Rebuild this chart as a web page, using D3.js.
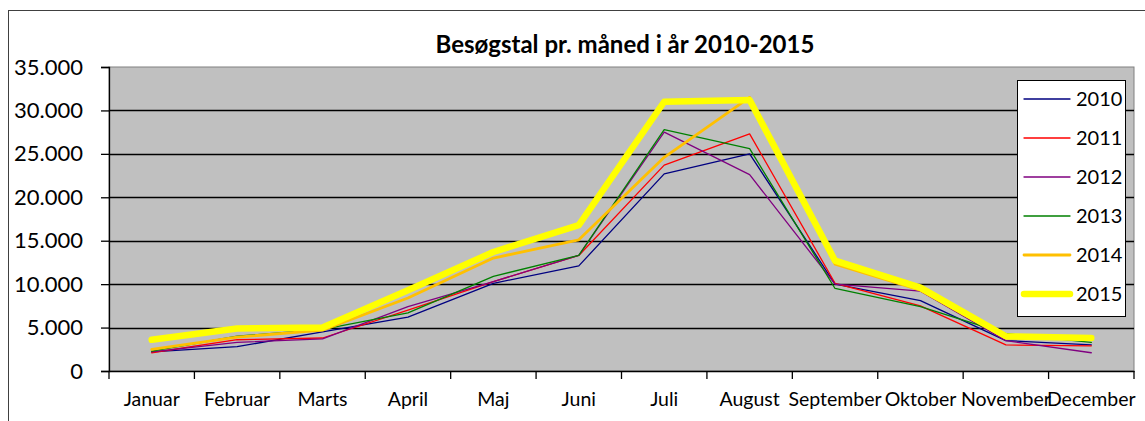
<!DOCTYPE html>
<html>
<head>
<meta charset="utf-8">
<script src="https://cdn.jsdelivr.net/npm/d3@7"></script>
<style>
  body { margin: 0; background: #fff; }
  svg text { font-family: Lato, "Noto Sans", sans-serif; fill: #000; }
</style>
</head>
<body>
<svg id="chart" width="1145" height="421"></svg>
<script>
"use strict";

// data
const months = ["Januar", "Februar", "Marts", "April", "Maj", "Juni",
    "Juli", "August", "September", "Oktober", "November", "December"];
const years = ["2010", "2011", "2012", "2013", "2014", "2015"];
const v2010 = [2200, 2800, 4500, 6200, 10100, 12100, 22700, 25000, 10000, 8100, 3500, 3000];
const v2011 = [2100, 3600, 3800, 7000, 10300, 13300, 23700, 27300, 10100, 7500, 3000, 2900];
const v2012 = [2200, 3300, 3700, 7400, 10300, 13300, 27500, 22600, 10000, 9200, 3500, 2100];
const v2013 = [2300, 4000, 4800, 6700, 10900, 13300, 27800, 25600, 9500, 7400, 4300, 3300];
const v2014 = [2500, 3900, 4700, 8400, 13000, 15100, 24600, 31500, 12300, 9300, 3800, 3700];
const v2015 = [3600, 4900, 5000, 9300, 13700, 16800, 31000, 31200, 12700, 9600, 4000, 3800];
const yTicks = [0, 5000, 10000, 15000, 20000, 25000, 30000, 35000];

const colors = ["#000080", "#ff0000", "#800080", "#008000", "#ffc000", "#ffff00"];
const widths = [1.3, 1.3, 1.3, 1.3, 2.8, 6.5];

let series = [v2010, v2011, v2012, v2013, v2014, v2015].map((vals, i) => ({
    name: years[i], values: vals, color: colors[i], width: widths[i]
}));

const svg = d3.select("#chart");
const plotL = 109, plotR = 1134, plotT = 67, plotB = 371;

// outer chart border (right and bottom run off the picture)
svg.append("rect")
    .attr("x", 8.5).attr("y", 10.5)
    .attr("width", 1160).attr("height", 440)
    .attr("fill", "#fff").attr("stroke", "#404040");

let x = d3.scaleBand().domain(months).range([plotL, plotR]);
let y = d3.scaleLinear().domain([0, 35000]).range([plotB, plotT]);

// plot area
svg.append("rect")
    .attr("x", plotL).attr("y", plotT)
    .attr("width", plotR - plotL).attr("height", plotB - plotT)
    .attr("fill", "#c0c0c0").attr("stroke", "#808080");

// gridlines
svg.append("g")
    .selectAll("line")
    .data(yTicks.filter(t => t > 0 && t < 35000))
    .join("line")
    .attr("x1", plotL).attr("x2", plotR)
    .attr("y1", d => Math.round(y(d)) + 0.5)
    .attr("y2", d => Math.round(y(d)) + 0.5)
    .attr("stroke", "#000").attr("stroke-width", 1.3);

// y axis
let loc = d3.formatLocale({decimal: ",", thousands: ".", grouping: [3], currency: ["", ""]});
let yAxis = d3.axisLeft(y).tickValues(yTicks).tickFormat(loc.format(",")).tickSize(8).tickPadding(18);
let gy = svg.append("g").attr("transform", `translate(${plotL},0)`).call(yAxis);
gy.select(".domain").attr("stroke", "#000").attr("stroke-width", 1.3);
gy.selectAll(".tick line").attr("stroke", "#000").attr("stroke-width", 1.3);
gy.selectAll("text").style("font-size", "22px").attr("fill", "#000");

// x axis: labels at the middle, ticks at the band edges
let xAxis = d3.axisBottom(x).tickSize(0).tickPadding(21);
let gx = svg.append("g").attr("transform", `translate(0,${plotB})`).call(xAxis);
gx.select(".domain").attr("stroke", "#000").attr("stroke-width", 1.3);
gx.selectAll("text").style("font-size", "19.5px").attr("fill", "#000");
gx.selectAll("line.edge")
    .data(months.map(m => x(m)).concat([plotR]))
    .join("line")
    .attr("class", "edge")
    .attr("x1", d => d).attr("x2", d => d)
    .attr("y1", 0).attr("y2", 8)
    .attr("stroke", "#000").attr("stroke-width", 1.3);

// lines
let line = d3.line()
    .x((d, i) => x(months[i]) + x.bandwidth() / 2)
    .y(d => y(d));

svg.append("g")
    .selectAll("path")
    .data(series)
    .join("path")
    .attr("d", d => line(d.values))
    .attr("fill", "none")
    .attr("stroke", d => d.color)
    .attr("stroke-width", d => d.width)
    .attr("stroke-linejoin", "round")
    .attr("stroke-linecap", "round");

// title
svg.append("text")
    .attr("x", 625).attr("y", 53)
    .attr("text-anchor", "middle")
    .style("font-size", "24px").style("font-weight", "bold")
    .text("Besøgstal pr. måned i år 2010-2015");

// legend
let lg = svg.append("g");
lg.append("rect")
    .attr("x", 1017.5).attr("y", 80.5)
    .attr("width", 108).attr("height", 236)
    .attr("fill", "#fff").attr("stroke", "#000");

let rows = lg.selectAll("g.row")
    .data(series)
    .join("g")
    .attr("class", "row")
    .attr("transform", (d, i) => `translate(0,${99 + i * 39})`);
rows.append("line")
    .attr("x1", 1024).attr("x2", 1070)
    .attr("stroke", d => d.color)
    .attr("stroke-width", d => d.width)
    .attr("stroke-linecap", "round");
rows.append("text")
    .attr("x", 1076).attr("dy", "0.35em")
    .style("font-size", "20px")
    .text(d => d.name);
</script>
</body>
</html>
